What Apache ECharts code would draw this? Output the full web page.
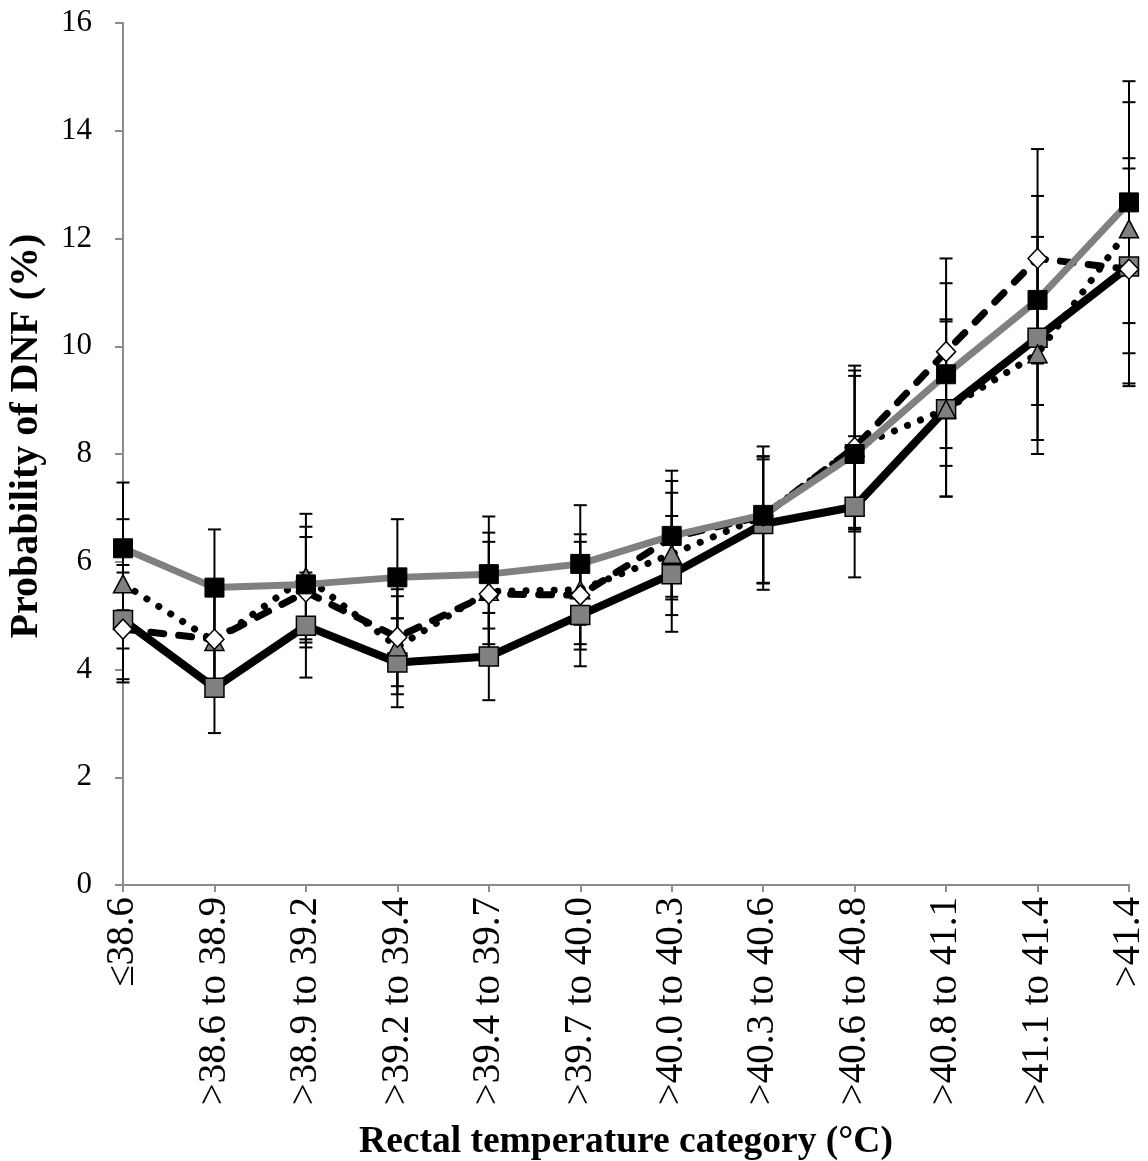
<!DOCTYPE html>
<html>
<head>
<meta charset="utf-8">
<script src="https://cdn.jsdelivr.net/npm/echarts@6/dist/echarts.min.js"></script>
<style>
  html, body { margin: 0; padding: 0; background: #fff; }
  #chart { width: 1148px; height: 1161px; }
</style>
</head>
<body>
<div id="chart"></div>
<script>
// Rectal temperature categories (°C)
const categories = ['≤38.6', '>38.6 to 38.9', '>38.9 to 39.2', '>39.2 to 39.4', '>39.4 to 39.7',
  '>39.7 to 40.0', '>40.0 to 40.3', '>40.3 to 40.6', '>40.6 to 40.8', '>40.8 to 41.1',
  '>41.1 to 41.4', '>41.4'];

const yTicks = { min: 0, max: 16, interval: 2 };

// Black squares, grey line
const blackSq = [6.25, 5.52, 5.58, 5.71, 5.77, 5.96, 6.48, 6.87, 8.00, 9.48, 10.86, 12.67];
const blackSqLow = [5.10, 4.60, 4.56, 4.95, 4.76, 4.83, 5.30, 5.61, 6.63, 7.78, 8.91, 10.43];
const blackSqHigh = [7.47, 6.60, 6.65, 6.79, 6.84, 7.05, 7.69, 8.14, 9.64, 11.17, 12.79, 14.92];

// Grey squares, solid black line
const greySq = [4.92, 3.66, 4.81, 4.13, 4.24, 5.01, 5.77, 6.70, 7.02, 8.83, 10.16, 11.48];
const greySqLow = [3.82, 2.82, 3.85, 3.30, 3.43, 4.06, 4.70, 5.48, 5.71, 7.21, 8.26, 9.31];
const greySqHigh = [5.94, 4.60, 5.80, 4.95, 5.05, 6.00, 6.85, 7.96, 8.33, 10.50, 12.03, 13.49];

// Grey triangles, dotted line
const greyTri = [5.59, 4.52, 5.72, 4.42, 5.45, 5.48, 6.14, 6.85, 8.12, 8.83, 9.86, 12.18];
const greyTriLow = [4.39, 3.60, 4.41, 3.54, 4.47, 4.47, 5.01, 5.60, 6.56, 7.21, 8.00, 9.87];
const greyTriHigh = [6.79, 5.50, 6.89, 5.36, 6.54, 6.51, 7.28, 7.95, 9.55, 10.46, 11.60, 14.53];

// White diamonds, dashed line
const whiteDia = [4.75, 4.56, 5.44, 4.60, 5.40, 5.38, 6.45, 6.85, 8.12, 9.90, 11.63, 11.43];
const whiteDiaLow = [3.76, 3.60, 4.50, 3.69, 4.40, 4.37, 5.35, 5.60, 6.60, 8.11, 9.68, 9.26];
const whiteDiaHigh = [5.80, 5.50, 6.46, 5.49, 6.37, 6.37, 7.50, 7.90, 9.45, 11.63, 13.66, 13.30];

const FONT = '"Liberation Serif", "Times New Roman", serif';
const GREY = '#808080';
const AXIS_GREY = '#8c8c8c';

function errorBars(name, lows, highs, z) {
  return {
    type: 'custom',
    name: name,
    z: z,
    silent: true,
    encode: { x: 0, y: [1, 2] },
    data: categories.map((c, i) => [i, lows[i], highs[i]]),
    renderItem: function (params, api) {
      const lo = api.coord([api.value(0), api.value(1)]);
      const hi = api.coord([api.value(0), api.value(2)]);
      const cap = 6.5;
      const st = { stroke: '#000', lineWidth: 2, fill: null };
      return {
        type: 'group',
        children: [
          { type: 'line', shape: { x1: lo[0], y1: lo[1], x2: hi[0], y2: hi[1] }, style: st },
          { type: 'line', shape: { x1: lo[0] - cap, y1: lo[1], x2: lo[0] + cap, y2: lo[1] }, style: st },
          { type: 'line', shape: { x1: hi[0] - cap, y1: hi[1], x2: hi[0] + cap, y2: hi[1] }, style: st }
        ]
      };
    }
  };
}

const chart = echarts.init(document.getElementById('chart'), null, { renderer: 'canvas' });

chart.setOption({
  animation: false,
  backgroundColor: '#fff',
  grid: { left: 123, right: 19, top: 23, bottom: 276, containLabel: false, outerBoundsMode: 'none' },
  xAxis: {
    type: 'category',
    data: categories,
    boundaryGap: false,
    name: 'Rectal temperature category (°C)',
    nameLocation: 'middle',
    nameGap: 238,
    nameTextStyle: { fontFamily: FONT, fontSize: 37.5, fontWeight: 'bold', color: '#000' },
    axisLine: { lineStyle: { color: AXIS_GREY, width: 2 } },
    axisTick: { alignWithLabel: true, length: 7, lineStyle: { color: AXIS_GREY, width: 2 } },
    axisLabel: { rotate: 90, margin: 12, fontFamily: FONT, fontSize: 39, color: '#000', interval: 0 },
    splitLine: { show: false }
  },
  yAxis: {
    type: 'value',
    min: yTicks.min,
    max: yTicks.max,
    interval: yTicks.interval,
    name: 'Probability of DNF (%)',
    nameLocation: 'middle',
    nameGap: 76,
    nameTextStyle: { fontFamily: FONT, fontSize: 40, fontWeight: 'bold', color: '#000', padding: [0, 0, 0, 36] },
    axisLine: { show: true, lineStyle: { color: AXIS_GREY, width: 2 } },
    axisTick: { show: true, length: 8, lineStyle: { color: AXIS_GREY, width: 2 } },
    axisLabel: { margin: 31, fontFamily: FONT, fontSize: 31, color: '#000' },
    splitLine: { show: false }
  },
  series: [
    errorBars('greySqErr', greySqLow, greySqHigh, 1),
    errorBars('greyTriErr', greyTriLow, greyTriHigh, 1),
    errorBars('whiteDiaErr', whiteDiaLow, whiteDiaHigh, 1),
    errorBars('blackSqErr', blackSqLow, blackSqHigh, 1),
    {
      type: 'line', name: 'greySq', data: greySq, z: 3,
      symbol: 'rect', symbolSize: 19, showAllSymbol: true,
      lineStyle: { color: '#000', width: 8, join: 'round' },
      itemStyle: { color: GREY, borderColor: '#000', borderWidth: 1.5 }
    },
    {
      type: 'line', name: 'greyTri', data: greyTri, z: 4,
      symbol: 'triangle', symbolSize: [19, 18], showAllSymbol: true,
      lineStyle: { color: '#000', width: 7, type: [0.1, 14], cap: 'round' },
      itemStyle: { color: GREY, borderColor: '#000', borderWidth: 1.5 }
    },
    {
      type: 'line', name: 'whiteDia', data: whiteDia, z: 5,
      symbol: 'diamond', symbolSize: [19, 20], showAllSymbol: true,
      lineStyle: { color: '#000', width: 7, type: [13, 15], cap: 'round' },
      itemStyle: { color: '#fff', borderColor: '#000', borderWidth: 1.5 }
    },
    {
      type: 'line', name: 'blackSq', data: blackSq, z: 6,
      symbol: 'rect', symbolSize: 19, showAllSymbol: true,
      lineStyle: { color: GREY, width: 7, join: 'round' },
      itemStyle: { color: '#000', borderColor: '#000', borderWidth: 1 }
    }
  ]
});
</script>
</body>
</html>
